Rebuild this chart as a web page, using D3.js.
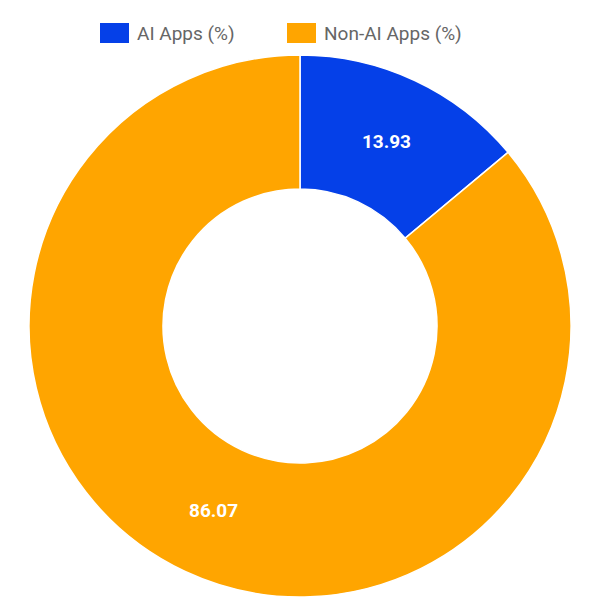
<!DOCTYPE html>
<html>
<head>
<meta charset="utf-8">
<script src="https://cdn.jsdelivr.net/npm/d3@7"></script>
<style>
  body { margin: 0; background: #fff; }
  svg { font-family: Roboto, "Liberation Sans", Arial, sans-serif; }
</style>
</head>
<body>
<div id="chart"></div>
<script>
// Data
const categories = ["AI Apps (%)", "Non-AI Apps (%)"];
const values = [13.93, 86.07];
const colors = ["#0540E8", "#FFA500"];

const width = 600, height = 600;
const cx = 300, cy = 326, outerR = 271, innerR = 137;

const svg = d3.select("#chart")
    .append("svg")
    .attr("width", width)
    .attr("height", height);

const data = categories.map((c, i) => ({name: c, value: values[i], color: colors[i]}));

const pie = d3.pie().sort(null).value(d => d.value);
const arc = d3.arc().innerRadius(innerR).outerRadius(outerR);

const g = svg.append("g").attr("transform", `translate(${cx},${cy})`);

const arcs = pie(data);

g.selectAll("path")
    .data(arcs)
    .enter()
    .append("path")
    .attr("d", arc)
    .attr("fill", d => d.data.color)
    .attr("stroke", "#fff")
    .attr("stroke-width", 1.5);

g.selectAll("text.label")
    .data(arcs)
    .enter()
    .append("text")
    .attr("class", "label")
    .attr("transform", d => `translate(${arc.centroid(d)})`)
    .attr("text-anchor", "middle")
    .attr("dy", "0.35em")
    .attr("fill", "#fff")
    .style("font-size", "19px")
    .style("font-weight", "bold")
    .text(d => d.data.value.toFixed(2));

// Legend
const legend = svg.append("g").attr("transform", "translate(0,33)");
const items = [{x: 100}, {x: 287}];
data.forEach((d, i) => {
    const item = legend.append("g").attr("transform", `translate(${items[i].x},0)`);
    item.append("rect")
        .attr("x", 0).attr("y", -10)
        .attr("width", 29).attr("height", 20)
        .attr("fill", d.color);
    item.append("text")
        .attr("x", 37).attr("y", 0)
        .attr("dy", "0.35em")
        .attr("fill", "#666")
        .style("font-size", "19px")
        .text(d.name);
});
</script>
</body>
</html>
